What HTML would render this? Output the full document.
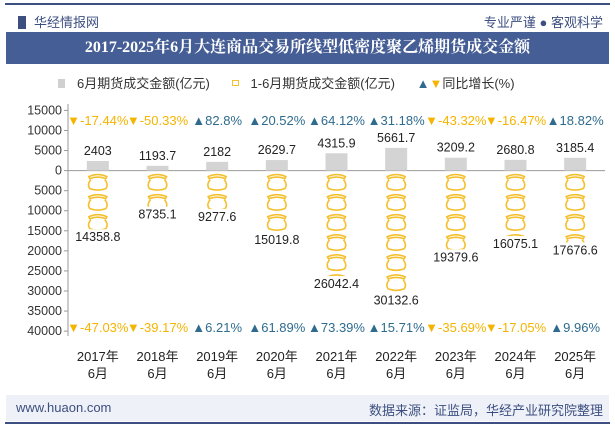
<!DOCTYPE html>
<html><head><meta charset="utf-8"><style>
body{margin:0;width:615px;height:427px;background:#fff;font-family:"Liberation Sans","Noto Sans CJK SC",sans-serif;overflow:hidden;position:relative}
.abs{position:absolute}
</style></head><body>
<div class="abs" style="left:5px;top:3px;width:605px;height:2px;background:#3d4f80"></div>
<div class="abs" style="left:18px;top:12px;font-size:13px;color:#3d4f80"><span style="display:inline-block;width:8px;height:13px;background:#3d4f80;vertical-align:-2px;margin-right:8px"></span>华经情报网</div>
<div class="abs" style="right:12px;top:12px;font-size:13px;color:#3d4f80">专业严谨 ● 客观科学</div>
<div class="abs" style="left:6px;top:32px;width:603px;height:32px;line-height:32px;background:#465e96;color:#fff;font-size:16px;font-weight:bold;text-align:center;font-family:'Liberation Serif','Noto Serif CJK SC',serif">2017-2025年6月大连商品交易所线型低密度聚乙烯期货成交金额</div>
<div class="abs" style="left:58px;top:73px;font-size:13px;color:#333;white-space:nowrap">
<span><span style="display:inline-block;width:7px;height:9px;background:#d0d0d0;margin-right:12px"></span>6月期货成交金额(亿元)</span>
<span style="margin-left:18px"><span style="display:inline-block;width:5px;height:4px;border:1px solid #f5c030;margin-right:12px;vertical-align:2px"></span>1-6月期货成交金额(亿元)</span>
<span style="margin-left:18px"><span style="color:#2e6b8e">▲</span><span style="color:#f5b400">▼</span>同比增长(%)</span>
</div>
<svg class="abs" style="left:0;top:0" width="615" height="427" id="chart"></svg>
<div class="abs" style="left:6px;top:395px;width:603px;height:26px;background:#eef1f7"></div>
<div class="abs" style="left:16px;top:400px;font-size:13px;color:#3d4f80">www.huaon.com</div>
<div class="abs" style="right:12px;top:400px;font-size:13px;color:#3d4f80">数据来源：证监局，华经产业研究院整理</div>
<div class="abs" style="left:5px;top:422px;width:605px;height:2px;background:#3d4f80"></div>
<script>
const categories=["2017年","2018年","2019年","2020年","2021年","2022年","2023年","2024年","2025年"];
const monthly=[2403,1193.7,2182,2629.7,4315.9,5661.7,3209.2,2680.8,3185.4];
const cumulative=[14358.8,8735.1,9277.6,15019.8,26042.4,30132.6,19379.6,16075.1,17676.6];
const growthMonthly=[-17.44,-50.33,82.8,20.52,64.12,31.18,-43.32,-16.47,18.82];
const growthCum=[-47.03,-39.17,6.21,61.89,73.39,15.71,-35.69,-17.05,9.96];
const yTicks=[15000,10000,5000,0,-5000,-10000,-15000,-20000,-25000,-30000,-35000,-40000];
const NS="http://www.w3.org/2000/svg";
const svg=document.getElementById('chart');
const x0=68,x1=605,bw=(x1-x0)/categories.length;
const y=v=>170.6-v*(220.7/55000);
const xc=i=>x0+bw*(i+0.5);
function mk(t,a){const e=document.createElementNS(NS,t);for(const k in a)e.setAttribute(k,a[k]);svg.appendChild(e);return e;}
let ax=mk('line',{x1:x0,x2:x0,y1:104,y2:336,stroke:'#999'});

let zx=mk('line',{x1:x0,x2:x1,y1:y(0),y2:y(0),stroke:'#999'});

yTicks.forEach(v=>{
 mk('line',{x1:x0-4,x2:x0,y1:y(v),y2:y(v),stroke:'#999'});
 const t=mk('text',{x:x0-6,y:y(v)+4,'text-anchor':'end','font-size':12.5,fill:'#333'});
 t.textContent=Math.abs(v);
 
});
const defs=mk('defs',{});
categories.forEach((c,i)=>{
 const cx=xc(i);
 const b=mk('rect',{x:cx-11,y:y(monthly[i]),width:22,height:y(0)-y(monthly[i]),fill:'#d4d4d4'});
 
 const l=mk('text',{x:cx,y:y(monthly[i])-6,'text-anchor':'middle','font-size':12.5,fill:'#222'});
 l.textContent=monthly[i];
 
 const cp=document.createElementNS(NS,'clipPath');cp.setAttribute('id','cp'+i);
 const cr=document.createElementNS(NS,'rect');
 cr.setAttribute('x',cx-14);cr.setAttribute('y',y(0)+1);cr.setAttribute('width',28);cr.setAttribute('height',y(-cumulative[i])-y(0));
 cp.appendChild(cr);defs.appendChild(cp);
 const g=mk('g',{'clip-path':'url(#cp'+i+')',fill:'none',stroke:'#f5c030','stroke-width':1.6});
 
 const n=Math.ceil(cumulative[i]/5000);
 for(let k=0;k<n;k++){
  const top=y(-5000*k)+3;
  const p=document.createElementNS(NS,'path');
  p.setAttribute('d',`M${cx-9},${top+3} Q${cx},${top-1} ${cx+9},${top+3} L${cx+8},${top+5} Q${cx},${top+2} ${cx-8},${top+5} Z M${cx-7},${top+6} Q${cx-11},${top+11} ${cx-8},${top+15} Q${cx},${top+18} ${cx+8},${top+15} Q${cx+11},${top+11} ${cx+7},${top+6}`);
  g.appendChild(p);
 }
 const cl=mk('text',{x:cx,y:y(-cumulative[i])+13,'text-anchor':'middle','font-size':12.5,fill:'#222'});
 cl.textContent=cumulative[i];
 
 [[growthMonthly[i],125],[growthCum[i],332]].forEach(([g2,yy])=>{
  const up=g2>=0;
  const t=mk('text',{x:cx,y:yy,'text-anchor':'middle','font-size':13,fill:up?'#2e6b8e':'#f5b400'});
  t.textContent=(up?'▲':'▼')+g2+'%';
  
 });
 const xl=mk('text',{x:cx,y:361,'text-anchor':'middle','font-size':13,fill:'#222'});
 xl.textContent=c;
 
 const xl2=mk('text',{x:cx,y:378,'text-anchor':'middle','font-size':13,fill:'#222'});
 xl2.textContent='6月';
 
});
</script>
</body></html>
